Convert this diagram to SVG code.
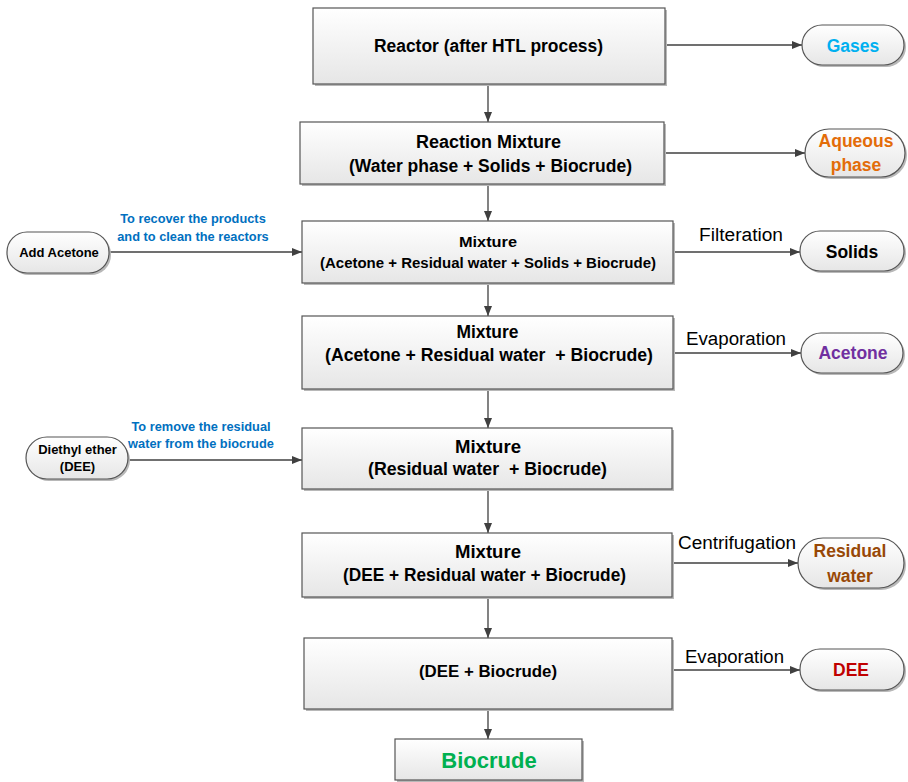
<svg xmlns="http://www.w3.org/2000/svg" width="908" height="782" viewBox="0 0 908 782">
<defs>
<linearGradient id="g" x1="0" y1="0" x2="0" y2="1">
<stop offset="0" stop-color="#ffffff"/>
<stop offset="1" stop-color="#e6e6e6"/>
</linearGradient>
<marker id="ah" viewBox="0 0 10 10" refX="10" refY="5" markerWidth="10" markerHeight="10" markerUnits="userSpaceOnUse" orient="auto">
<path d="M0,1 L10,5 L0,9 Z" fill="#404040"/>
</marker>
<style>
.box{fill:url(#g);stroke:#555;stroke-width:1.2}
.sh{fill:#b8b8b8}
.pill{fill:url(#g);stroke:#555;stroke-width:1.2}
.t{font-family:"Liberation Sans",Arial,sans-serif;font-weight:bold;text-anchor:middle;fill:#000}
.l{font-family:"Liberation Sans",Arial,sans-serif;text-anchor:middle;fill:#000;font-size:18px}
.b{fill:#0070C0;font-size:12.8px}
.c{stroke:#404040;stroke-width:1.3;fill:none;marker-end:url(#ah)}
</style>
</defs>
<rect width="908" height="782" fill="#fff"/>
<g id="connectors">
<line class="c" x1="488" y1="84" x2="488" y2="122"/>
<line class="c" x1="488" y1="184" x2="488" y2="221"/>
<line class="c" x1="488" y1="283" x2="488" y2="316"/>
<line class="c" x1="488" y1="389" x2="488" y2="428"/>
<line class="c" x1="488" y1="489" x2="488" y2="533"/>
<line class="c" x1="488" y1="597" x2="488" y2="638"/>
<line class="c" x1="488" y1="709" x2="488" y2="739"/>
<line class="c" x1="665" y1="45" x2="802" y2="45"/>
<line class="c" x1="664" y1="153" x2="805" y2="153"/>
<line class="c" x1="673" y1="252" x2="800" y2="252"/>
<line class="c" x1="673" y1="353" x2="801" y2="353"/>
<line class="c" x1="672" y1="563" x2="798" y2="563"/>
<line class="c" x1="672" y1="670" x2="800" y2="670"/>
<line class="c" x1="110" y1="252" x2="302" y2="252"/>
<line class="c" x1="128" y1="460" x2="302" y2="460"/>
<text class="l" x="741" y="241" textLength="84" lengthAdjust="spacingAndGlyphs">Filteration</text>
<text class="l" x="736" y="345" textLength="100" lengthAdjust="spacingAndGlyphs">Evaporation</text>
<text class="l" x="737" y="549" textLength="118" lengthAdjust="spacingAndGlyphs">Centrifugation</text>
<text class="l" x="734.5" y="663" textLength="99" lengthAdjust="spacingAndGlyphs">Evaporation</text>
<text class="t b" x="193" y="223">To recover the products</text>
<text class="t b" x="193" y="241">and to clean the reactors</text>
<text class="t b" x="201" y="431">To remove the residual</text>
<text class="t b" x="201" y="448">water from the biocrude</text>
</g>
<g id="reactor">
<rect class="sh" x="315" y="10" width="352" height="76"/>
<rect class="box" x="313" y="8" width="352" height="76"/>
<text class="t" x="488.5" y="52" font-size="17.5" textLength="229" lengthAdjust="spacingAndGlyphs">Reactor (after HTL process)</text>
</g>
<g id="reaction-mixture">
<rect class="sh" x="302" y="124" width="364" height="62"/>
<rect class="box" x="300" y="122" width="364" height="62"/>
<text class="t" x="488.5" y="148" font-size="17.5" textLength="145" lengthAdjust="spacingAndGlyphs">Reaction Mixture</text>
<text class="t" x="490.5" y="172" font-size="17.5" textLength="283" lengthAdjust="spacingAndGlyphs">(Water phase + Solids + Biocrude)</text>
</g>
<g id="mixture1">
<rect class="sh" x="304" y="223" width="371" height="62"/>
<rect class="box" x="302" y="221" width="371" height="62"/>
<text class="t" x="488" y="247" font-size="14" textLength="58" lengthAdjust="spacingAndGlyphs">Mixture</text>
<text class="t" x="488" y="268" font-size="14" textLength="336" lengthAdjust="spacingAndGlyphs">(Acetone + Residual water + Solids + Biocrude)</text>
</g>
<g id="mixture2">
<rect class="sh" x="304" y="318" width="371" height="73"/>
<rect class="box" x="302" y="316" width="371" height="73"/>
<text class="t" x="487.5" y="338" font-size="17.5" textLength="62" lengthAdjust="spacingAndGlyphs">Mixture</text>
<text class="t" x="489" y="361" font-size="17.5" textLength="328" lengthAdjust="spacingAndGlyphs" xml:space="preserve">(Acetone + Residual water  + Biocrude)</text>
</g>
<g id="mixture3">
<rect class="sh" x="304" y="430" width="370" height="61"/>
<rect class="box" x="302" y="428" width="370" height="61"/>
<text class="t" x="488" y="453" font-size="17.5" textLength="66" lengthAdjust="spacingAndGlyphs">Mixture</text>
<text class="t" x="487.5" y="475" font-size="17.5" textLength="239" lengthAdjust="spacingAndGlyphs" xml:space="preserve">(Residual water  + Biocrude)</text>
</g>
<g id="mixture4">
<rect class="sh" x="304" y="535" width="370" height="64"/>
<rect class="box" x="302" y="533" width="370" height="64"/>
<text class="t" x="488" y="558" font-size="17.5" textLength="66" lengthAdjust="spacingAndGlyphs">Mixture</text>
<text class="t" x="484.5" y="581" font-size="17.5" textLength="283" lengthAdjust="spacingAndGlyphs">(DEE + Residual water + Biocrude)</text>
</g>
<g id="dee-biocrude">
<rect class="sh" x="306" y="640" width="368" height="71"/>
<rect class="box" x="304" y="638" width="368" height="71"/>
<text class="t" x="488" y="677" font-size="17" textLength="138" lengthAdjust="spacingAndGlyphs">(DEE + Biocrude)</text>
</g>
<g id="biocrude">
<rect class="sh" x="397" y="741" width="187" height="41"/>
<rect class="box" x="395" y="739" width="187" height="41"/>
<text class="t" x="489" y="768" font-size="22" style="fill:#00B050">Biocrude</text>
</g>
<g id="gases">
<rect class="sh" x="804" y="27" width="102" height="40" rx="20"/>
<rect class="pill" x="802" y="25" width="102" height="40" rx="20"/>
<text class="t" x="853" y="52" font-size="17.5" style="fill:#00B0F0">Gases</text>
</g>
<g id="aqueous">
<rect class="sh" x="807" y="131" width="100" height="48" rx="24"/>
<rect class="pill" x="805" y="129" width="100" height="48" rx="24"/>
<text class="t" x="856" y="147" font-size="17.5" style="fill:#E36C09">Aqueous</text>
<text class="t" x="856" y="171" font-size="17.5" style="fill:#E36C09">phase</text>
</g>
<g id="solids">
<rect class="sh" x="802" y="233" width="104" height="40" rx="20"/>
<rect class="pill" x="800" y="231" width="104" height="40" rx="20"/>
<text class="t" x="852" y="258" font-size="17.5">Solids</text>
</g>
<g id="acetone">
<rect class="sh" x="803" y="335" width="102" height="40" rx="20"/>
<rect class="pill" x="801" y="333" width="102" height="40" rx="20"/>
<text class="t" x="853" y="359" font-size="17.5" style="fill:#7030A0">Acetone</text>
</g>
<g id="residual-water">
<rect class="sh" x="800" y="540" width="106" height="50" rx="25"/>
<rect class="pill" x="798" y="538" width="106" height="50" rx="25"/>
<text class="t" x="850" y="557" font-size="17.5" style="fill:#984806">Residual</text>
<text class="t" x="850" y="582" font-size="17.5" style="fill:#984806">water</text>
</g>
<g id="dee">
<rect class="sh" x="802" y="651" width="104" height="41" rx="20"/>
<rect class="pill" x="800" y="649" width="104" height="41" rx="20"/>
<text class="t" x="851" y="676" font-size="17.5" style="fill:#C00000">DEE</text>
</g>
<g id="add-acetone">
<rect class="sh" x="9" y="234" width="102" height="41" rx="20"/>
<rect class="pill" x="7" y="232" width="102" height="41" rx="20"/>
<text class="t" x="59" y="257" font-size="13">Add Acetone</text>
</g>
<g id="diethyl-ether">
<rect class="sh" x="28" y="439" width="102" height="42" rx="21"/>
<rect class="pill" x="26" y="437" width="102" height="42" rx="21"/>
<text class="t" x="77.5" y="454" font-size="13">Diethyl ether</text>
<text class="t" x="77.5" y="471" font-size="13">(DEE)</text>
</g>
</svg>
